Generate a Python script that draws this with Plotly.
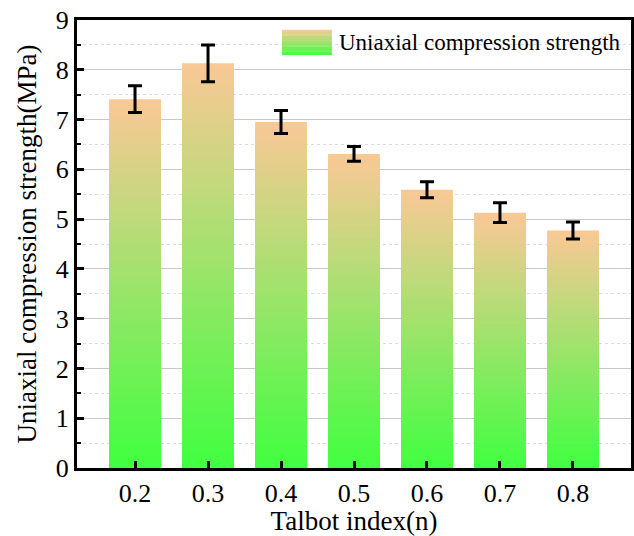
import plotly.graph_objects as go

categories = ["0.2", "0.3", "0.4", "0.5", "0.6", "0.7", "0.8"]
x_values = [0.2, 0.3, 0.4, 0.5, 0.6, 0.7, 0.8]
strength = [7.41, 8.13, 6.95, 6.31, 5.59, 5.13, 4.77]
error = [0.27, 0.37, 0.23, 0.15, 0.16, 0.20, 0.17]
y_ticks = [0, 1, 2, 3, 4, 5, 6, 7, 8, 9]

GREEN = (64, 255, 64)
PEACH = (250, 200, 150)
N_STEPS = 60
FONT = "Liberation Serif"


def mix(f):
    r, g, b = (round(GREEN[i] + (PEACH[i] - GREEN[i]) * f) for i in range(3))
    return f"rgb({r},{g},{b})"


fig = go.Figure()

# gradient bars: tallest (top colour) first, shorter ones overlaid
for k in range(N_STEPS, 0, -1):
    frac = k / N_STEPS
    fig.add_trace(go.Bar(
        x=x_values,
        y=[v * frac for v in strength],
        width=0.071,
        marker=dict(color=mix((k - 0.5) / N_STEPS), line=dict(width=0)),
        showlegend=False,
        hoverinfo="skip",
    ))

# error bars
fig.add_trace(go.Scatter(
    x=x_values, y=strength, mode="markers",
    marker=dict(size=1, opacity=0),
    error_y=dict(type="data", array=error, visible=True,
                 color="black", thickness=3, width=7),
    showlegend=False,
))

# custom legend with gradient swatch
sx0, sx1 = 0.370, 0.460
sy0, sy1 = 0.922, 0.978
M = 30
shapes = []
for j in range(M):
    y0 = sy0 + (sy1 - sy0) * j / M
    y1 = sy0 + (sy1 - sy0) * (j + 1) / M + 0.001
    shapes.append(dict(type="rect", xref="paper", yref="paper",
                       x0=sx0, x1=sx1, y0=y0, y1=min(y1, sy1),
                       fillcolor=mix((j + 0.5) / M), line=dict(width=0),
                       layer="above"))

fig.update_layout(
    width=634, height=536,
    margin=dict(l=77, r=3, t=20, b=68),
    paper_bgcolor="white", plot_bgcolor="white",
    barmode="overlay",
    font=dict(family=FONT, color="black", size=26),
    shapes=shapes,
    annotations=[dict(xref="paper", yref="paper", x=0.470, y=(sy0 + sy1) / 2,
                      xanchor="left", yanchor="middle", showarrow=False,
                      text="Uniaxial compression strength",
                      font=dict(family=FONT, size=23, color="black"))],
    xaxis=dict(
        range=[0.1205, 0.8795],
        tickvals=x_values, ticktext=categories,
        ticks="inside", ticklen=7, tickwidth=3, tickcolor="black",
        showline=True, linewidth=3, linecolor="black", mirror=True,
        showgrid=False, zeroline=False, automargin=False,
        tickfont=dict(size=26, family=FONT),
        title=dict(text="Talbot index(n)", font=dict(size=27, family=FONT), standoff=2),
    ),
    yaxis=dict(
        range=[0, 9],
        tickvals=y_ticks,
        ticks="inside", ticklen=7, tickwidth=3, tickcolor="black",
        showline=True, linewidth=3, linecolor="black", mirror=True,
        showgrid=True, gridcolor="#c8c8c8", gridwidth=1.2,
        zeroline=False, automargin=False,
        minor=dict(dtick=0.5, ticks="inside", ticklen=4, tickwidth=2,
                   tickcolor="black", showgrid=True, gridcolor="#dcdcdc",
                   griddash="dot", gridwidth=1),
        tickfont=dict(size=26, family=FONT),
        title=dict(text="Uniaxial compression strength(MPa)",
                   font=dict(size=27, family=FONT), standoff=12),
    ),
)

fig.write_html("out.html", config={"displayModeBar": False},
               post_script="document.body.style.margin='0';document.body.style.overflow='hidden';")
